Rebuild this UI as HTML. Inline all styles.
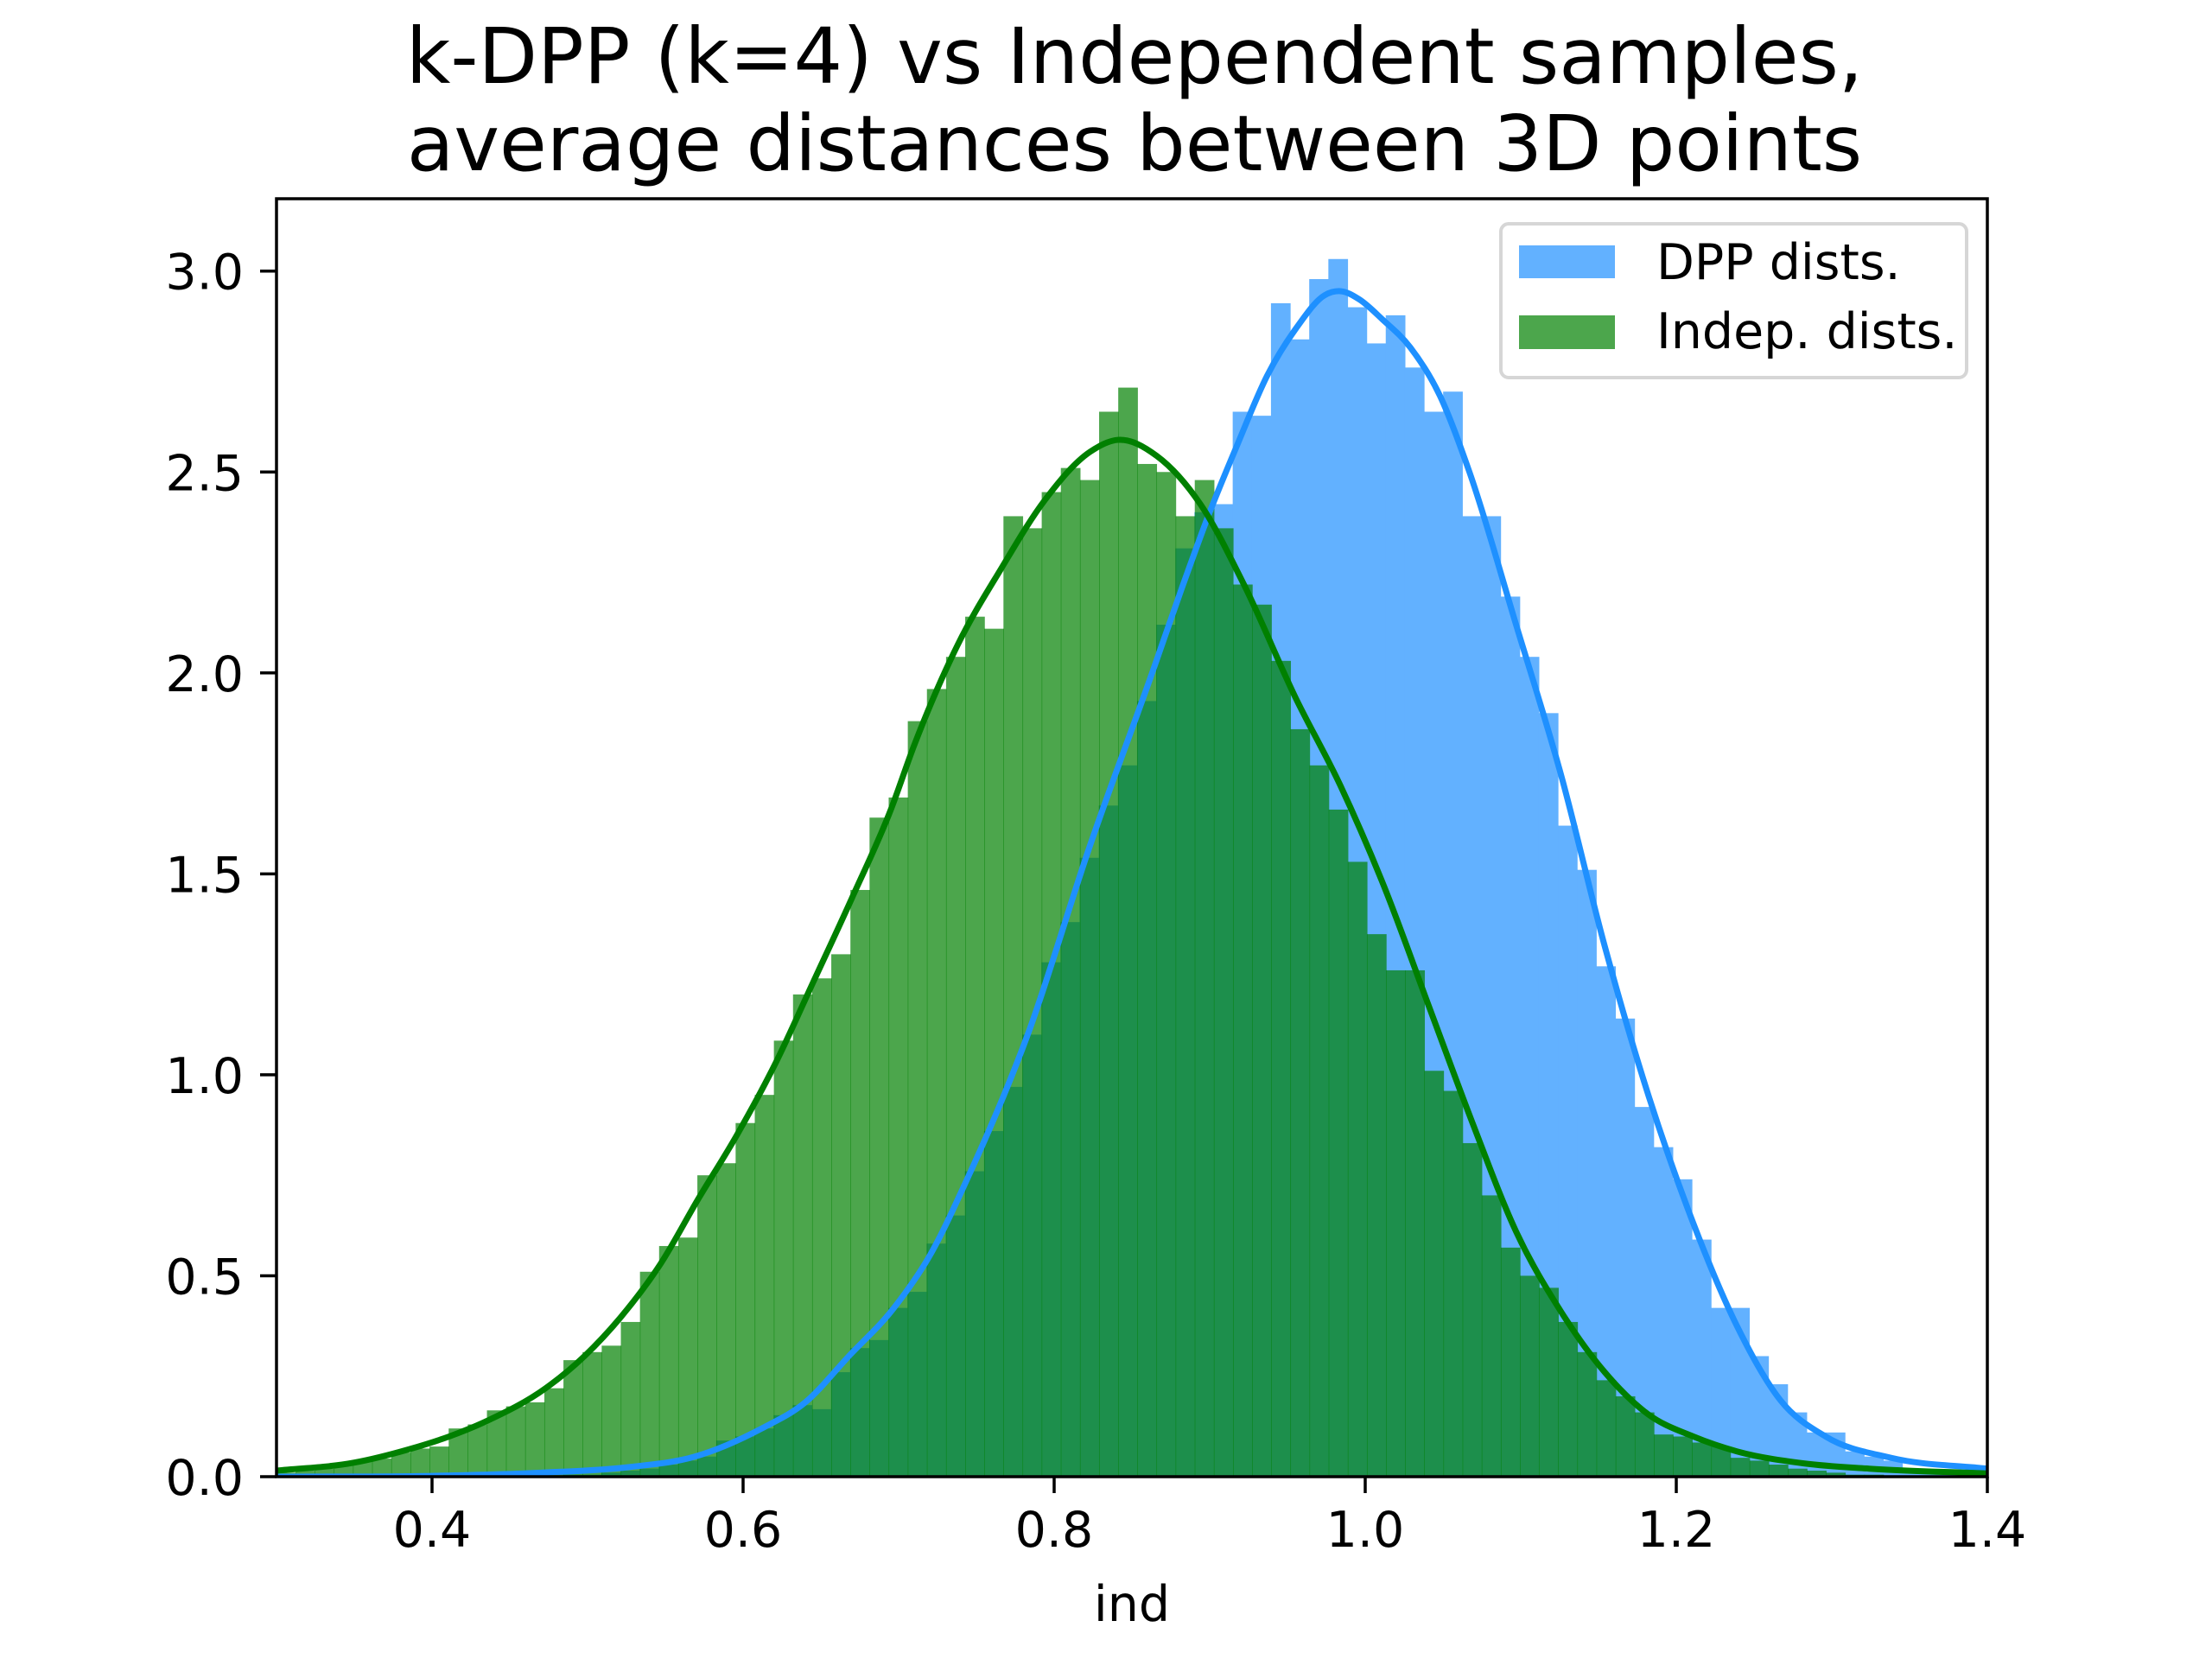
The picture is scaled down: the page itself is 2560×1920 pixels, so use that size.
<!DOCTYPE html>
<html><head><meta charset="utf-8"><style>
html,body{margin:0;padding:0;background:#fff;}
svg{display:block;font-family:"DejaVu Sans","Liberation Sans",sans-serif;}
</style></head><body>
<svg id="chart" width="2560" height="1920" viewBox="0 0 2560 1920" xmlns="http://www.w3.org/2000/svg">
<rect width="2560" height="1920" fill="#fff"/>
<text x="1313" y="96" font-size="89" text-anchor="middle">k-DPP (k=4) vs Independent samples,</text>
<text x="1313" y="197" font-size="89" text-anchor="middle">average distances between 3D points</text>
<g id="plot"></g>
<text x="1310" y="1876" font-size="57" text-anchor="middle">ind</text>
<g>
<rect x="1737" y="259" width="539" height="178" rx="9" fill="#fff" fill-opacity="0.8" stroke="#d6d6d6" stroke-width="4"/>
<rect x="1758" y="284" width="111" height="38" fill="#62b1ff"/>
<text x="1917" y="323" font-size="57">DPP dists.</text>
<rect x="1758" y="365" width="111" height="39" fill="#4ca64c"/>
<text x="1917" y="403" font-size="57">Indep. dists.</text>
</g>
</svg>
<script>
const xTicks = [0.4, 0.6, 0.8, 1.0, 1.2, 1.4];
const xTickLabels = ["0.4", "0.6", "0.8", "1.0", "1.2", "1.4"];
const yTicks = [0, 0.5, 1.0, 1.5, 2.0, 2.5, 3.0];
const yTickLabels = ["0.0", "0.5", "1.0", "1.5", "2.0", "2.5", "3.0"];
const binWidth = 0.0123;
const indepStart = 0.300;
const indepHeights = [0.01,0.015,0.02,0.03,0.04,0.045,0.06,0.07,0.075,0.12,
0.13,0.165,0.175,0.185,0.22,0.29,0.31,0.326,0.385,0.51,
0.574,0.595,0.75,0.78,0.88,0.95,1.085,1.20,1.24,1.30,
1.46,1.64,1.69,1.88,1.96,2.04,2.14,2.11,2.39,2.36,
2.45,2.51,2.48,2.65,2.71,2.52,2.50,2.39,2.48,2.36,
2.22,2.17,2.03,1.86,1.77,1.66,1.53,1.35,1.26,1.26,
1.01,0.96,0.83,0.70,0.57,0.50,0.47,0.385,0.31,0.24,
0.20,0.16,0.105,0.10,0.085,0.075,0.047,0.04,0.03,0.02,
0.015,0.01,0.005,0.005];
const dppStart = 0.4843;
const dppHeights = [0.005,0.005,0.01,0.015,0.02,0.03,0.04,0.05,0.09,0.10,
0.12,0.153,0.178,0.168,0.26,0.32,0.34,0.42,0.46,0.58,
0.65,0.76,0.86,0.97,1.10,1.28,1.38,1.54,1.67,1.77,
1.93,2.12,2.31,2.40,2.42,2.65,2.64,2.92,2.83,2.98,
3.03,2.91,2.82,2.89,2.76,2.65,2.70,2.39,2.39,2.19,
2.04,1.90,1.62,1.51,1.27,1.14,0.92,0.82,0.74,0.59,
0.42,0.42,0.30,0.23,0.16,0.11,0.11,0.063,0.05,0.04,
0.02,0.015,0.01,0.005];
const indepKdeX = [0.300,0.350,0.385,0.411,0.436,0.473,0.498,0.522,0.547,0.571,0.596,0.621,0.645,0.670,0.695,0.710,0.738,0.766,0.794,0.823,0.841,0.866,0.894,0.922,0.955,0.984,1.012,1.041,1.069,1.097,1.126,1.154,1.182,1.211,1.239,1.282,1.324,1.400];
const indepKde = [0.015,0.035,0.068,0.10,0.14,0.22,0.30,0.40,0.53,0.69,0.85,1.03,1.23,1.44,1.66,1.82,2.07,2.26,2.43,2.55,2.58,2.54,2.42,2.22,1.94,1.72,1.47,1.17,0.88,0.61,0.41,0.26,0.155,0.10,0.063,0.033,0.02,0.008];
const dppKdeX = [0.300,0.400,0.470,0.527,0.569,0.612,0.640,0.668,0.697,0.720,0.744,0.783,0.823,0.863,0.882,0.900,0.918,0.937,0.956,0.974,0.984,0.996,1.011,1.029,1.048,1.067,1.097,1.126,1.154,1.182,1.211,1.239,1.267,1.296,1.338,1.400];
const dppKde = [0.0,0.002,0.01,0.024,0.05,0.12,0.185,0.30,0.42,0.55,0.74,1.10,1.57,2.00,2.21,2.40,2.57,2.74,2.86,2.94,2.95,2.93,2.88,2.81,2.69,2.50,2.12,1.745,1.32,0.95,0.63,0.375,0.19,0.10,0.047,0.02];

const L=320,R=2300,T=230,B=1709, xmin=0.3,xmax=1.4,ymax=3.18;
const sx=v=>L+(v-xmin)/(xmax-xmin)*(R-L);
const sy=v=>B-v/ymax*(B-T);
const NS="http://www.w3.org/2000/svg";
const plot=document.getElementById('plot');
function mk(tag,attrs,parent){const e=document.createElementNS(NS,tag);for(const k in attrs)e.setAttribute(k,attrs[k]);(parent||plot).appendChild(e);return e;}
const clip=mk('clipPath',{id:'clipA'});mk('rect',{x:L,y:T,width:R-L,height:B-T},clip);
const g=mk('g',{'clip-path':'url(#clipA)'});


dppHeights.forEach((h,i)=>{const x0=sx(dppStart+i*binWidth),x1=sx(dppStart+(i+1)*binWidth);
const r=mk('rect',{x:x0,y:sy(h),width:x1-x0+0.6,height:B-sy(h),fill:'#62b1ff'},g);

});
indepHeights.forEach((h,i)=>{const x0=sx(indepStart+i*binWidth),x1=sx(indepStart+(i+1)*binWidth);
const r=mk('rect',{x:x0,y:sy(h),width:x1-x0+0.6,height:B-sy(h),fill:'rgb(0,128,0)','fill-opacity':0.7},g);

});
// smooth Hermite curve in x (handles uneven spacing)
function smooth(xs,ys){const n=xs.length,m=[];
for(let i=0;i<n;i++){if(i===0)m.push((ys[1]-ys[0])/(xs[1]-xs[0]));else if(i===n-1)m.push((ys[n-1]-ys[n-2])/(xs[n-1]-xs[n-2]));
else{const d0=(ys[i]-ys[i-1])/(xs[i]-xs[i-1]),d1=(ys[i+1]-ys[i])/(xs[i+1]-xs[i]);const h0=xs[i]-xs[i-1],h1=xs[i+1]-xs[i];m.push((d0*h1+d1*h0)/(h0+h1));}}
let d=`M${sx(xs[0])},${sy(ys[0])}`;
for(let i=0;i<n-1;i++){const h=xs[i+1]-xs[i];
const c1x=xs[i]+h/3,c1y=ys[i]+m[i]*h/3,c2x=xs[i+1]-h/3,c2y=ys[i+1]-m[i+1]*h/3;
d+=` C${sx(c1x)},${sy(c1y)} ${sx(c2x)},${sy(c2y)} ${sx(xs[i+1])},${sy(ys[i+1])}`;}return d;}
const l1=mk('path',{d:smooth(dppKdeX,dppKde),fill:'none',stroke:'#1e90ff','stroke-width':7,'stroke-linejoin':'round'},g);


const l2=mk('path',{d:smooth(indepKdeX,indepKde),fill:'none',stroke:'#008000','stroke-width':7,'stroke-linejoin':'round'},g);


const frame=mk('rect',{x:L,y:T,width:R-L,height:B-T,fill:'none',stroke:'#000','stroke-width':3.5});


xTicks.forEach((v,i)=>{const x=sx(v);
const t=mk('line',{x1:x,x2:x,y1:B,y2:B+19,stroke:'#000','stroke-width':3.5});


const tx=mk('text',{x:x,y:1790,'font-size':57,'text-anchor':'middle'});tx.textContent=xTickLabels[i];

});
yTicks.forEach((v,i)=>{const y=sy(v);
const t=mk('line',{x1:L-19,x2:L,y1:y,y2:y,stroke:'#000','stroke-width':3.5});


const tx=mk('text',{x:282,y:y+21,'font-size':57,'text-anchor':'end'});tx.textContent=yTickLabels[i];

});
</script>
</body></html>
